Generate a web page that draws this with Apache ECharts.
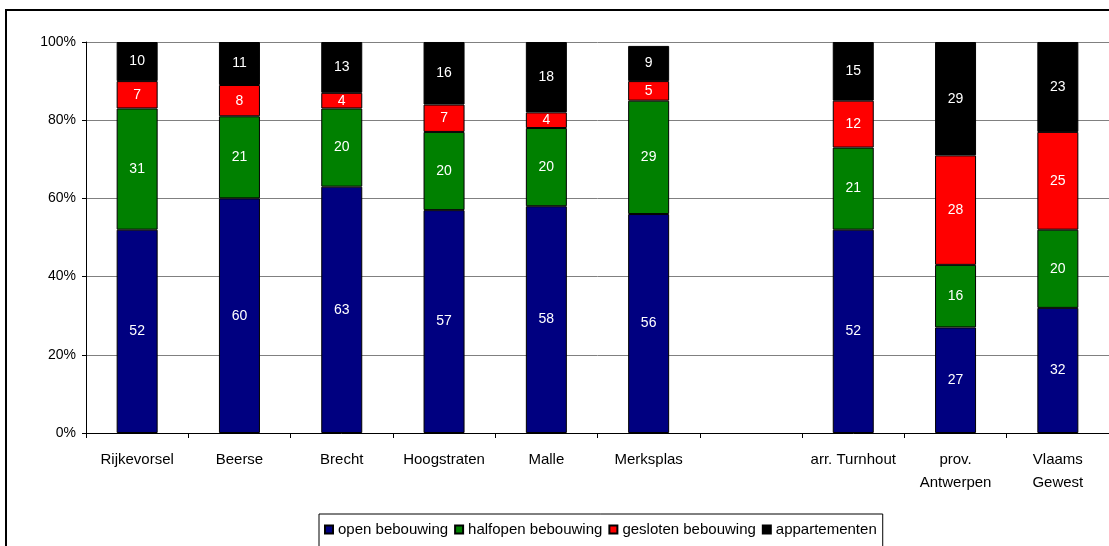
<!DOCTYPE html>
<html>
<head>
<meta charset="utf-8">
<script src="https://cdn.jsdelivr.net/npm/echarts@6/dist/echarts.min.js"></script>
<style>
  html, body { margin: 0; padding: 0; background: #fff; }
  #chart { width: 1109px; height: 546px; }
</style>
</head>
<body>
<div id="chart"></div>
<script>
// Municipalities and reference areas; the blank entry separates the two groups
const categories = ['Rijkevorsel', 'Beerse', 'Brecht', 'Hoogstraten', 'Malle', 'Merksplas', '',
  'arr. Turnhout', 'prov.\nAntwerpen', 'Vlaams\nGewest'];

// Share of dwellings per building type (%)
const openBebouwing     = [52, 60, 63, 57, 58, 56, '-', 52, 27, 32];
const halfopenBebouwing = [31, 21, 20, 20, 20, 29, '-', 21, 16, 20];
const geslotenBebouwing = [7, 8, 4, 7, 4, 5, '-', 12, 28, 25];
const appartementen     = [10, 11, 13, 16, 18, 9, '-', 15, 29, 23];

const seriesNames = ['open bebouwing', 'halfopen bebouwing', 'gesloten bebouwing', 'appartementen'];
const seriesColors = ['#000080', '#008000', '#ff0000', '#000000'];
const seriesData = [openBebouwing, halfopenBebouwing, geslotenBebouwing, appartementen];

const FONT = '"Liberation Sans", Arial, sans-serif';

const chart = echarts.init(document.getElementById('chart'), null, { renderer: 'canvas' });

chart.setOption({
  animation: false,
  backgroundColor: '#ffffff',
  textStyle: { fontFamily: FONT },
  graphic: [{
    type: 'rect',
    shape: { x: 6, y: 10, width: 1200, height: 600 },
    style: { fill: 'none', stroke: '#000', lineWidth: 2 },
    silent: true,
    z: -10
  }],
  grid: { left: 86, top: 42, width: 1027, height: 391 },
  legend: {
    left: 319,
    top: 514,
    data: seriesNames,
    icon: 'rect',
    itemWidth: 8,
    itemHeight: 8,
    itemGap: 6,
    padding: [8, 6, 20, 5],
    borderColor: '#000',
    borderWidth: 1,
    textStyle: { fontFamily: FONT, fontSize: 15, color: '#000', padding: [0, 0, 0, 0] }
  },
  xAxis: {
    type: 'category',
    data: categories,
    axisLine: { lineStyle: { color: '#000', width: 1 } },
    axisTick: { show: true, length: 5, lineStyle: { color: '#000' } },
    axisLabel: {
      interval: 0,
      margin: 15,
      fontFamily: FONT,
      fontSize: 15,
      color: '#000',
      lineHeight: 23
    },
    splitLine: { show: false }
  },
  yAxis: {
    type: 'value',
    min: 0,
    max: 100,
    interval: 20,
    axisLine: { show: true, lineStyle: { color: '#000', width: 1 } },
    axisTick: { show: true, length: 4, lineStyle: { color: '#000' } },
    axisLabel: {
      formatter: '{value}%',
      margin: 10,
      fontFamily: FONT,
      fontSize: 14,
      color: '#000'
    },
    splitLine: { show: true, lineStyle: { color: '#808080', width: 1 } }
  },
  series: seriesNames.map((name, i) => ({
    name: name,
    type: 'bar',
    stack: 'total',
    barWidth: 41,
    data: seriesData[i],
    itemStyle: { color: seriesColors[i], borderColor: '#000', borderWidth: 1 },
    label: {
      show: true,
      position: 'inside',
      color: '#fff',
      fontFamily: FONT,
      fontSize: 14
    }
  }))
});
</script>
</body>
</html>
